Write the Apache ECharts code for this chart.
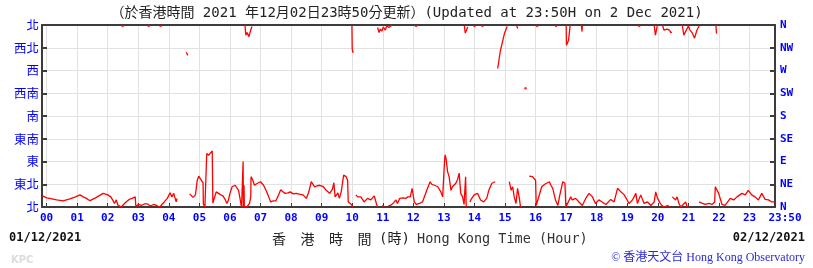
<!DOCTYPE html>
<html>
<head>
<meta charset="utf-8">
<script src="https://cdn.jsdelivr.net/npm/echarts@6/dist/echarts.min.js"></script>
<style>html,body{margin:0;padding:0;background:#fff;}#c{width:813px;height:268px;}</style>
</head>
<body>
<div id="c"></div>
<script>
// ---- tick labels ----
const hourTicks = [0,1,2,3,4,5,6,7,8,9,10,11,12,13,14,15,16,17,18,19,20,21,22,23,23+50/60];
const hourTickLabels = ['00','01','02','03','04','05','06','07','08','09','10','11','12','13','14','15','16','17','18','19','20','21','22','23','23:50'];
const dirTicks = [0,45,90,135,180,225,270,315,360];
const dirLabelsZh = ['北','東北','東','東南','南','西南','西','西北','北'];
const dirLabelsEn = ['N','NE','E','SE','S','SW','W','NW','N'];

// ---- wind direction (degrees) vs time (hours), low range near north/east ----
const lowTime = [-0.13,0.0,0.1,0.33,0.54,0.76,0.95,1.09,1.2,1.3,1.42,1.63,1.85,2.0,2.1,2.18,2.22,2.28,2.33,2.44,2.52,2.6,2.7,2.8,2.9,2.92,3.0,3.1,3.2,3.3,3.4,3.5,3.6,3.7,3.85,3.95,4.04,4.1,4.16,4.24,4.27,4.4,
 4.68,4.79,4.87,4.93,4.98,5.07,5.12,5.13,5.18,5.23,5.24,5.3,5.35,5.42,5.44,5.55,5.6,5.7,5.77,5.85,5.9,5.95,6.0,6.07,6.17,6.28,6.32,6.36,6.38,6.42,6.43,6.44,6.46,6.47,6.55,6.64,6.68,6.69,6.75,6.8,6.9,7.0,7.1,7.2,7.27,7.33,7.42,7.5,7.6,7.66,7.73,7.8,7.9,7.97,8.07,8.17,8.3,8.39,8.5,8.58,8.66,8.77,8.85,8.93,9.04,9.15,9.26,9.35,9.4,9.44,9.53,9.58,9.64,9.72,9.8,9.85,9.87,9.96,10.02,10.06,
 10.12,10.18,10.23,10.28,10.39,10.5,10.61,10.72,10.8,10.83,10.9,
 10.98,11.05,11.1,
 11.18,11.25,11.35,11.43,11.48,11.55,11.6,11.68,11.75,11.82,11.9,11.96,12.0,12.03,12.1,12.2,12.3,12.44,12.55,12.6,12.66,12.73,12.8,12.9,12.96,13.02,13.04,13.07,13.12,13.17,13.23,13.28,13.39,13.45,13.5,13.55,13.61,13.66,13.68,13.71,13.73,13.8,
 13.85,13.88,13.99,14.1,14.2,14.3,14.4,14.47,14.57,14.68,14.72,
 15.14,15.2,15.25,15.3,15.36,15.41,15.47,15.5,15.53,15.6,
 15.79,15.85,15.9,16.0,16.02,16.08,16.2,16.3,16.36,16.45,16.5,16.56,16.65,16.73,16.78,16.89,16.96,16.99,17.05,17.15,17.2,17.31,17.42,17.53,17.64,17.75,17.86,17.96,18.07,18.18,18.3,18.46,18.57,18.68,18.79,18.9,19.06,19.17,19.28,19.33,19.44,19.55,19.66,19.77,19.88,19.93,19.99,20.1,20.2,20.32,20.4,20.43,
 20.47,20.58,20.63,20.69,20.75,20.8,20.91,20.96,21.0,21.05,
 21.35,21.46,21.55,21.67,21.77,21.86,21.88,21.99,22.1,22.2,22.37,22.48,22.59,22.75,22.86,22.96,23.07,23.18,23.29,23.4,23.51,23.62,23.73,23.78,23.83];
const lowDir = [22,18,17,14,12,16,20,24,20,17,12.5,19,27,24,20,12,7,14,4,0,5,10,15,17,20,1,5,3,6,6,2,5,3,0,10,17,28,20,27,10,17,null,
 26,19,24,53,61,52,48,6,0,0,106,102,106,111,8,30,28,24,22,14,7,14,27,40,43,33,20,5,0,0,90,0,43,0,0,7,20,60,53,43,47,50,43,30,20,10,12,12,25,34,30,27,28,30,26,27,25,24,17,30,50,40,42,43,41,33,27,35,48,20,28,17,30,63,60,53,10,6,0,null,
 24,20,17,20,10,17,14,22,5,0,null,
 3,0,null,
 2,3,8,14,7,17,19,18,17,20,20,37,40,10,5,7,10,33,50,45,43,42,40,30,20,90,103,96,70,60,33,40,47,55,67,27,20,5,2,60,0,null,
 10,14,24,27,14,10,17,33,47,50,null,
 50,33,40,20,7,37,17,3,0,null,
 61,62,60,53,3,5,40,45,48,50,43,37,14,3,20,50,47,0,0,20,14,17,10,3,17,27,20,7,14,10,5,15,10,37,30,24,7,14,27,7,24,7,10,3,10,30,17,5,0,3,0,null,
 20,14,20,7,0,0,10,0,0,null,
 10,7,5,7,5,10,40,27,5,3,17,14,20,27,24,33,24,20,14,27,15,14,10,12,10];

// ---- wind direction segments wrapped near north (high range) ----
const highTime = [4.57,4.6,4.62,4.64,
 6.49,6.52,6.56,6.62,6.68,6.72,6.74,
 9.99,10.0,10.03,10.04,
 10.83,10.88,10.92,10.97,11.02,11.08,11.13,11.2,11.3,11.32,
 13.67,13.7,13.74,13.78,13.8,
 14.76,14.85,14.98,15.07,15.1,
 15.38,15.42,15.44,
 17.0,17.01,17.08,17.13,17.15,
 17.5,17.52,17.53,17.55,
 19.88,19.92,19.98,20.0,
 20.15,20.2,20.3,20.38,20.42,20.46,20.48,
 20.8,20.85,20.9,21.0,21.05,21.12,21.2,21.28,21.35,21.37,
 21.9,21.92];
const highDir = [306,303,300,null,
 360,340,345,337,350,357,null,
 360,312,305,null,
 355,345,352,348,356,350,358,355,360,null,
 358,344,350,356,null,
 274,310,343,357,null,
 358,353,null,
 360,320,330,360,null,
 360,347,358,null,
 360,340,358,null,
 360,350,352,350,345,346,null,
 360,340,337,358,350,345,334,350,358,null,
 360,343];

// ---- isolated readings ----
const dotTime = [2.49,3.34,3.73,12.09,14.0,14.26,15.67,16.05,16.67,19.39];
const dotDir = [358,358,358,358,358,358,235,358,358,358];

// ---- footer axis title characters ----
const zhAxisChars = ['香','港','時','間'];

const BLUE = '#0000ff';
const AXIS = '#3c3c3c';
const GRID = '#e2e2e2';
const RED = '#ff0000';
const X_MIN = -0.15, X_MAX = 23 + 50/60;

function pair(ts, ds) { return ts.map((t, i) => [t, ds[i] == null ? '-' : ds[i]]); }
function hourLabel(v) {
  let best = 0;
  for (let i = 1; i < hourTicks.length; i++) if (Math.abs(hourTicks[i] - v) < Math.abs(hourTicks[best] - v)) best = i;
  return best === hourTicks.length - 1 ? '{last|' + hourTickLabels[best] + '}' : hourTickLabels[best];
}
function dirLabel(arr) { return v => { const i = dirTicks.indexOf(Math.round(v)); return i < 0 ? '' : arr[i]; }; }

const footer = [
  {type: 'text', left: 'center', top: 6, style: {text: '（於香港時間 2021 年12月02日23時50分更新）(Updated at 23:50H on 2 Dec 2021)',
    fill: '#222', font: '14px "DejaVu Sans Mono", "Noto Sans CJK TC"'}},
  {type: 'text', x: 9, y: 238, style: {text: '01/12/2021', fill: '#111', font: 'bold 12px "DejaVu Sans Mono"', verticalAlign: 'middle', align: 'left'}},
  {type: 'text', x: 379, y: 239, style: {text: '(時)', fill: '#222', font: '14px "DejaVu Sans Mono", "Noto Sans CJK TC"', verticalAlign: 'middle', align: 'left'}},
  {type: 'text', x: 417, y: 239, style: {text: 'Hong Kong Time (Hour)', fill: '#333', font: '13.5px "DejaVu Sans Mono"', verticalAlign: 'middle', align: 'left'}},
  {type: 'text', x: 805, y: 238, style: {text: '02/12/2021', fill: '#111', font: 'bold 12px "DejaVu Sans Mono"', verticalAlign: 'middle', align: 'right'}},
  {type: 'text', x: 11, y: 260, style: {text: 'KPC', fill: '#dcdcdc', font: 'bold 10px "DejaVu Sans"', verticalAlign: 'middle', align: 'left'}},
  {type: 'text', x: 805, y: 258, style: {text: '© 香港天文台 Hong Kong Observatory', fill: '#2a2ad8', font: '12px "Liberation Serif", "Noto Sans CJK TC"', verticalAlign: 'middle', align: 'right'}}
];
zhAxisChars.forEach((ch, i) => footer.push({type: 'text', x: 272 + 28.5 * i, y: 239,
  style: {text: ch, fill: '#222', font: '14px "Noto Sans CJK TC"', verticalAlign: 'middle', align: 'left'}}));

const chart = echarts.init(document.getElementById('c'), null, {renderer: 'canvas'});
chart.setOption({
  animation: false,
  backgroundColor: '#fff',
  grid: {left: 42, right: 38, top: 25, bottom: 61, containLabel: false},
  xAxis: [{
    type: 'value', position: 'bottom', min: X_MIN, max: X_MAX,
    axisLine: {show: true, onZero: false, lineStyle: {color: AXIS, width: 2}},
    axisTick: {show: true, inside: true, length: 4, customValues: hourTicks, lineStyle: {color: AXIS, width: 1}},
    axisLabel: {show: true, customValues: hourTicks, formatter: hourLabel, color: BLUE,
      fontFamily: 'DejaVu Sans Mono', fontWeight: 'bold', fontSize: 11, margin: 6,
      rich: {last: {color: BLUE, fontFamily: 'DejaVu Sans Mono', fontWeight: 'bold', fontSize: 11, padding: [0, 0, 0, 20]}}},
    splitLine: {show: true, lineStyle: {color: GRID, width: 1}}
  }, {
    type: 'value', position: 'top', min: X_MIN, max: X_MAX,
    axisLine: {show: true, onZero: false, lineStyle: {color: AXIS, width: 2}},
    axisTick: {show: false}, axisLabel: {show: false}, splitLine: {show: false}
  }],
  yAxis: [{
    type: 'value', position: 'left', min: 0, max: 360, interval: 45,
    axisLine: {show: true, onZero: false, lineStyle: {color: AXIS, width: 2}},
    axisTick: {show: true, inside: true, length: 5, lineStyle: {color: AXIS, width: 2}},
    axisLabel: {formatter: dirLabel(dirLabelsZh), color: BLUE, fontFamily: 'Noto Sans CJK TC', fontSize: 12.5, margin: 3},
    splitLine: {show: true, lineStyle: {color: GRID, width: 1}}
  }, {
    type: 'value', position: 'right', min: 0, max: 360, interval: 45,
    axisLine: {show: true, onZero: false, lineStyle: {color: AXIS, width: 2}},
    axisTick: {show: true, inside: true, length: 5, lineStyle: {color: AXIS, width: 2}},
    axisLabel: {formatter: dirLabel(dirLabelsEn), color: BLUE, fontFamily: 'DejaVu Sans Mono', fontWeight: 'bold', fontSize: 11, margin: 5},
    splitLine: {show: false}
  }],
  series: [{
    type: 'line', xAxisIndex: 0, yAxisIndex: 0, data: pair(lowTime, lowDir),
    showSymbol: false, connectNulls: false, lineStyle: {color: RED, width: 1.3}, itemStyle: {color: RED}
  }, {
    type: 'line', xAxisIndex: 0, yAxisIndex: 0, data: pair(highTime, highDir),
    showSymbol: false, connectNulls: false, lineStyle: {color: RED, width: 1.3}, itemStyle: {color: RED}
  }, {
    type: 'scatter', xAxisIndex: 0, yAxisIndex: 0, data: pair(dotTime, dotDir),
    symbolSize: 2.5, itemStyle: {color: RED}
  }],
  graphic: footer
});
</script>
</body>
</html>
